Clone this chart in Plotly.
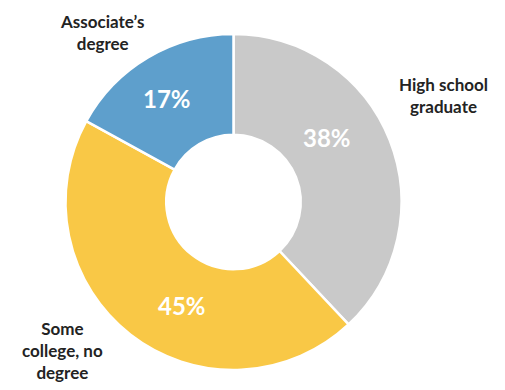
import plotly.graph_objects as go

categories = ["High school graduate", "Some college, no degree", "Associate's degree"]
values = [38, 45, 17]
colors = ["#c9c9c9", "#f9c846", "#5e9fcc"]
label_lines = ["High school<br>graduate", "Some<br>college, no<br>degree", "Associate’s<br>degree"]

W, H = 505, 390
cx, cy, r = 233.5, 202, 168

fig = go.Figure(go.Pie(
    labels=categories,
    values=values,
    hole=0.40,
    sort=False,
    direction="clockwise",
    rotation=0,
    marker=dict(colors=colors, line=dict(color="white", width=2.5)),
    textinfo="none",
    showlegend=False,
    domain=dict(x=[(cx - r) / W, (cx + r) / W], y=[(H - cy - r) / H, (H - cy + r) / H]),
    hoverinfo="label+percent",
))

# outside category labels
label_pos = [(443, 95), (62, 350), (102, 32)]
for txt, (x, y) in zip(label_lines, label_pos):
    fig.add_annotation(x=x / W, y=1 - y / H, xref="paper", yref="paper", text=txt,
                       showarrow=False, xanchor="center", yanchor="middle",
                       font=dict(family="Lato", size=17, color="#232323", weight="bold"))

# percentage labels inside slices
pct_pos = [(327, 137), (182, 305), (167, 98)]
for v, (x, y) in zip(values, pct_pos):
    fig.add_annotation(x=x / W, y=1 - y / H, xref="paper", yref="paper", text=f"{v}%",
                       showarrow=False, xanchor="center", yanchor="middle",
                       font=dict(family="Lato", size=24, color="white", weight="bold"))

fig.update_layout(width=W, height=H, margin=dict(l=0, r=0, t=0, b=0),
                  paper_bgcolor="white", plot_bgcolor="white",
                  font=dict(family="Lato"))
fig.write_html("out.html")
